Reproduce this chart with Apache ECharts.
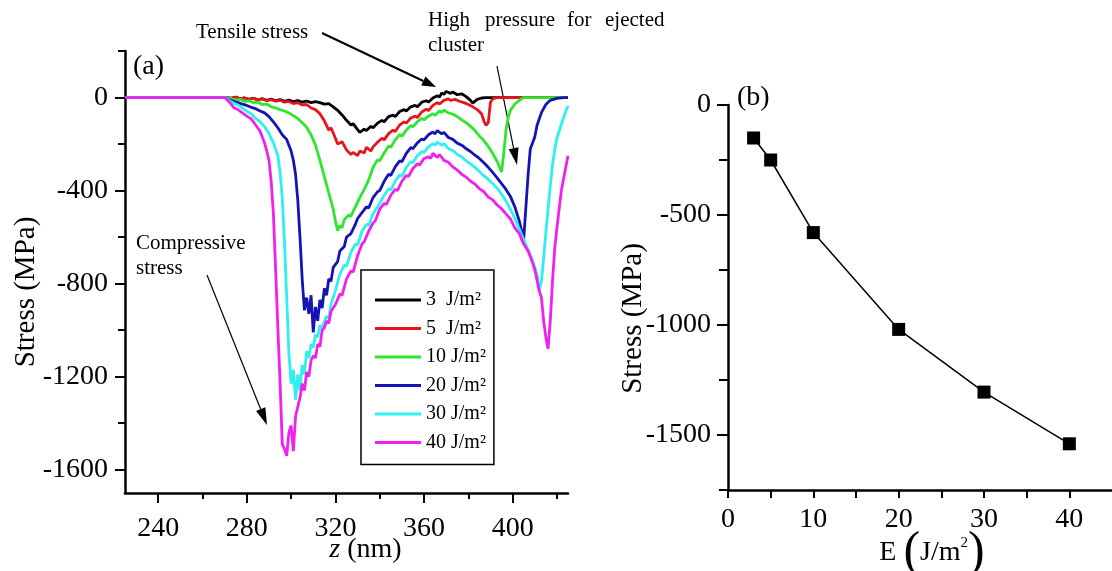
<!DOCTYPE html>
<html>
<head>
<meta charset="utf-8">
<script src="https://cdn.jsdelivr.net/npm/echarts@6/dist/echarts.min.js"></script>
<style>
  html, body { margin: 0; padding: 0; background: #fff; }
  #chart { width: 1112px; height: 571px; }
</style>
</head>
<body>
<div id="chart"></div>
<script>
const serif = "'Liberation Serif', 'Times New Roman', serif"

// (a) stress profiles along z, one [z, stress] list per fluence
const zTicks = [240, 280, 320, 360, 400]
const zMinor = [260, 300, 340, 380, 420]
const stressTicksA = [0, -400, -800, -1200, -1600]
const stressMinorA = [200, -200, -600, -1000, -1400]
const fluenceNames = ['3', '5', '10', '20', '30', '40']
const lineColors = ['#000000', '#e8141c', '#2ee62e', '#1414b4', '#2ef0f0', '#f020ee']

const curve3 = [[225,0],[271,0],[273,-4],[275,2],[277,-6],[279,-2],[281,-8],[283,-3],[285,-10],[287,-5],[289,-12],[291,-7],[293,-14],[295,-9],[297,-16],[299,-11],[301,-18],[303,-13],[305,-20],[307,-15],[309,-22],[311,-18],[313,-22],[315,-28],[317,-26],[319,-40],[321,-55],[323,-75],[325,-98],[327,-118],[328,-112],[330,-138],[331,-150],[333,-136],[334,-142],[336,-124],[337,-130],[339,-110],[341,-98],[342,-104],[344,-82],[346,-76],[347,-82],[349,-60],[351,-52],[352,-58],[354,-40],[356,-34],[357,-40],[359,-20],[361,-14],[362,-20],[364,-2],[366,8],[367,2],[368,20],[369,14],[370,26],[372,18],[373,24],[375,12],[377,16],[379,4],[381,-12],[382,-24],[384,-8],[386,-2],[388,0],[425,0]]
const curve5 = [[225,0],[271,0],[273,-3],[275,1],[277,-5],[279,-2],[281,-8],[283,-4],[285,-10],[287,-6],[289,-13],[291,-9],[293,-16],[295,-12],[297,-20],[299,-17],[301,-26],[303,-22],[305,-32],[307,-30],[309,-45],[311,-52],[313,-70],[315,-100],[317,-140],[318,-130],[320,-175],[321,-200],[323,-190],[325,-225],[327,-245],[328,-236],[330,-250],[331,-230],[333,-238],[334,-214],[336,-230],[337,-212],[339,-192],[341,-175],[342,-182],[344,-155],[346,-140],[347,-146],[349,-118],[351,-105],[352,-110],[354,-88],[356,-80],[357,-86],[359,-62],[361,-50],[362,-56],[364,-34],[366,-22],[367,-28],[369,-12],[371,-6],[372,-12],[374,-8],[376,-16],[378,-22],[380,-30],[382,-40],[384,-52],[386,-70],[387,-100],[388,-120],[389,-108],[390,-20],[391,-6],[393,0],[425,0]]
const curve10 = [[225,0],[271,0],[273,-6],[275,-10],[277,-8],[279,-16],[281,-14],[283,-22],[285,-20],[287,-30],[289,-28],[291,-40],[293,-44],[295,-52],[297,-58],[299,-66],[301,-78],[303,-90],[305,-108],[307,-128],[309,-160],[311,-205],[313,-270],[315,-340],[317,-410],[319,-480],[320,-530],[321,-572],[322,-550],[323,-560],[324,-525],[326,-505],[327,-510],[329,-470],[331,-430],[333,-395],[335,-355],[337,-300],[339,-268],[340,-272],[342,-238],[344,-208],[345,-214],[347,-182],[349,-160],[350,-166],[352,-140],[354,-120],[355,-126],[357,-104],[359,-90],[360,-96],[362,-80],[364,-70],[365,-76],[367,-58],[368,-64],[369,-54],[371,-66],[373,-72],[375,-82],[377,-96],[379,-108],[381,-124],[383,-142],[385,-165],[387,-185],[389,-210],[391,-240],[393,-275],[395,-320],[396,-240],[397,-140],[398,-85],[399,-55],[401,-28],[403,-12],[405,0],[425,0]]
const curve20 = [[225,0],[270,0],[272,-10],[274,-16],[276,-22],[278,-28],[280,-34],[282,-42],[284,-48],[286,-58],[288,-66],[290,-82],[292,-105],[294,-130],[296,-160],[298,-180],[300,-230],[301,-270],[302,-330],[303,-440],[304,-600],[305,-780],[306,-915],[307,-860],[308,-930],[309,-850],[310,-1010],[311,-900],[312,-960],[313,-870],[314,-905],[315,-820],[316,-850],[317,-780],[318,-790],[319,-730],[321,-705],[322,-660],[324,-640],[325,-600],[327,-585],[329,-545],[330,-520],[332,-495],[334,-470],[335,-475],[337,-430],[339,-405],[340,-400],[342,-360],[344,-330],[345,-335],[347,-298],[349,-272],[350,-276],[352,-240],[354,-215],[355,-220],[357,-195],[359,-178],[360,-182],[362,-160],[364,-148],[365,-156],[366,-142],[368,-156],[369,-150],[371,-172],[373,-180],[375,-196],[377,-205],[379,-220],[381,-232],[383,-248],[385,-262],[387,-280],[389,-300],[391,-322],[393,-345],[395,-370],[397,-395],[399,-425],[401,-470],[403,-530],[405,-610],[406,-470],[407,-330],[408,-220],[409,-195],[410,-170],[411,-120],[413,-65],[415,-30],[417,-12],[420,-4],[423,0],[425,0]]
const curve30 = [[225,0],[270,0],[272,-12],[274,-24],[276,-32],[278,-46],[280,-60],[282,-70],[284,-90],[286,-104],[288,-125],[290,-155],[292,-195],[294,-250],[295,-320],[296,-430],[297,-620],[298,-860],[299,-1100],[300,-1230],[301,-1170],[302,-1300],[303,-1190],[304,-1260],[305,-1150],[306,-1190],[307,-1090],[308,-1120],[309,-1060],[310,-1075],[311,-1020],[312,-1030],[313,-980],[314,-990],[316,-940],[317,-950],[318,-890],[320,-830],[322,-760],[324,-720],[325,-725],[327,-665],[329,-630],[330,-635],[332,-575],[334,-545],[335,-550],[337,-500],[339,-470],[340,-455],[342,-420],[344,-392],[345,-398],[347,-360],[349,-332],[350,-338],[352,-300],[354,-275],[355,-280],[357,-250],[359,-232],[360,-236],[362,-212],[364,-198],[365,-205],[366,-192],[368,-205],[369,-198],[371,-220],[373,-228],[375,-245],[377,-255],[379,-272],[381,-285],[383,-300],[385,-318],[387,-336],[389,-352],[391,-370],[393,-390],[395,-415],[397,-445],[399,-480],[401,-520],[403,-565],[405,-610],[407,-655],[409,-700],[411,-760],[412,-830],[413,-790],[414,-690],[415,-580],[416,-480],[417,-380],[418,-290],[419,-225],[420,-175],[422,-115],[424,-60],[425,-35]]
const curve40 = [[225,0],[270,0],[272,-18],[274,-42],[276,-52],[278,-66],[280,-80],[282,-92],[284,-118],[286,-145],[288,-195],[289,-230],[290,-270],[291,-360],[292,-500],[293,-740],[294,-990],[295,-1220],[296,-1490],[297,-1510],[298,-1540],[299,-1440],[300,-1410],[301,-1520],[302,-1370],[303,-1330],[304,-1290],[305,-1230],[306,-1260],[307,-1180],[308,-1200],[309,-1130],[310,-1110],[311,-1120],[312,-1060],[313,-1070],[314,-1000],[315,-990],[316,-960],[317,-970],[318,-920],[320,-890],[322,-845],[323,-850],[325,-780],[327,-745],[328,-750],[330,-680],[332,-630],[333,-620],[335,-575],[337,-540],[338,-530],[340,-480],[342,-455],[343,-460],[345,-420],[347,-395],[348,-400],[350,-360],[352,-335],[353,-340],[355,-305],[357,-285],[358,-290],[360,-262],[362,-255],[363,-262],[364,-240],[366,-258],[367,-245],[369,-270],[371,-278],[373,-298],[375,-312],[377,-330],[379,-342],[381,-360],[383,-372],[385,-392],[387,-405],[389,-428],[391,-440],[393,-462],[395,-478],[397,-500],[399,-522],[401,-560],[403,-585],[405,-630],[407,-660],[409,-710],[410,-740],[412,-830],[413,-860],[414,-960],[415,-1030],[416,-1080],[417,-960],[418,-790],[419,-650],[420,-560],[421,-480],[422,-400],[424,-300],[425,-250]]
const curves = [curve3, curve5, curve10, curve20, curve30, curve40]

// (b) peak compressive stress vs fluence
const fluence = [3, 5, 10, 20, 30, 40]
const peakStress = [-150, -250, -580, -1020, -1305, -1540]
const eTicks = [0, 10, 20, 30, 40]
const eMinor = [5, 15, 25, 35]
const stressTicksB = [0, -500, -1000, -1500]
const stressMinorB = [-250, -750, -1250, -1750]

const axisLineStyle = { color: '#000', width: 2.5 }
const labelStyle = { color: '#000', fontFamily: serif, fontSize: 28, formatter: v => String(v) }

function mainAxis(grid, pos, min, max, ticks, tickLen, margin) {
  return {
    gridIndex: grid,
    position: pos,
    type: 'value',
    min: min,
    max: max,
    nameMoveOverlap: false,
    axisLine: { show: true, onZero: false, lineStyle: axisLineStyle },
    axisTick: { show: true, customValues: ticks, length: tickLen, lineStyle: { color: '#000', width: 2 } },
    axisLabel: Object.assign({ customValues: ticks, margin: margin }, labelStyle),
    splitLine: { show: false }
  }
}
function minorAxis(grid, pos, min, max, ticks, tickLen) {
  return {
    gridIndex: grid,
    position: pos,
    type: 'value',
    min: min,
    max: max,
    axisLine: { show: false, onZero: false },
    axisTick: { show: true, customValues: ticks, length: tickLen, lineStyle: { color: '#000', width: 2 } },
    axisLabel: { show: false },
    splitLine: { show: false }
  }
}

function arrow(from, to, width, headLen, headW) {
  const dx = to[0] - from[0]
  const dy = to[1] - from[1]
  const d = Math.sqrt(dx * dx + dy * dy)
  const ux = dx / d
  const uy = dy / d
  const bx = to[0] - ux * headLen
  const by = to[1] - uy * headLen
  return [{
    type: 'line',
    shape: { x1: from[0], y1: from[1], x2: bx, y2: by },
    style: { stroke: '#000', lineWidth: width }
  }, {
    type: 'polygon',
    shape: { points: [to, [bx - uy * headW / 2, by + ux * headW / 2], [bx + uy * headW / 2, by - ux * headW / 2]] },
    style: { fill: '#000' }
  }]
}
function note(text, x, y, size) {
  return {
    type: 'text',
    left: x,
    top: y - size / 2,
    style: { text: text, fill: '#000', font: size + 'px ' + serif }
  }
}

const xA = mainAxis(0, 'bottom', 225, 425, zTicks, 10, 22)
xA.name = '{i|z} (nm)'
xA.nameLocation = 'middle'
xA.nameGap = 43
xA.nameTextStyle = {
  color: '#000', fontFamily: serif, fontSize: 28, padding: [0, 0, 0, 38],
  rich: { i: { fontStyle: 'italic', fontFamily: serif, fontSize: 28, color: '#000' } }
}
const yA = mainAxis(0, 'left', -1700, 200, stressTicksA, 10, 17)
yA.name = 'Stress (MPa)'
yA.nameLocation = 'middle'
yA.nameGap = 84
yA.nameRotate = 90
yA.nameTextStyle = { color: '#000', fontFamily: serif, fontSize: 29, padding: [0, 40, 0, 0] }

const xB = mainAxis(1, 'bottom', 0, 45, eTicks, 8, 16)
xB.name = '{t|E }{p|(}{t|J/m}{s|2}{p|)}'
xB.nameLocation = 'middle'
xB.nameGap = 38
xB.nameTextStyle = {
  color: '#000', fontFamily: serif, fontSize: 28, padding: [0, 0, 0, 24],
  rich: {
    t: { fontFamily: serif, fontSize: 28, color: '#000' },
    p: { fontFamily: serif, fontSize: 50, color: '#000' },
    s: { fontFamily: serif, fontSize: 15, color: '#000', verticalAlign: 'top', padding: [8, 0, 0, 0] }
  }
}
const yB = mainAxis(1, 'left', -1750, 0, stressTicksB, 11, 17)
yB.name = 'Stress (MPa)'
yB.nameLocation = 'middle'
yB.nameGap = 80
yB.nameRotate = 90
yB.nameTextStyle = { color: '#000', fontFamily: serif, fontSize: 29, padding: [0, 42, 0, 0] }

const xAm = minorAxis(0, 'bottom', 225, 425, zMinor, 6)
const yAm = minorAxis(0, 'left', -1700, 200, stressMinorA, 7)
const xBm = minorAxis(1, 'bottom', 0, 45, eMinor, 8)
const yBm = minorAxis(1, 'left', -1750, 0, stressMinorB, 9)

const series = curves.map((c, i) => ({
  name: fluenceNames[i],
  type: 'line',
  xAxisIndex: 0,
  yAxisIndex: 0,
  data: c,
  showSymbol: false,
  symbol: 'none',
  animation: false,
  lineStyle: { color: lineColors[i], width: 2.8 },
  itemStyle: { color: lineColors[i] }
}))
series.push({
  name: 'peak',
  type: 'line',
  xAxisIndex: 2,
  yAxisIndex: 2,
  data: fluence.map((e, i) => [e, peakStress[i]]),
  symbol: 'rect',
  symbolSize: 13,
  animation: false,
  lineStyle: { color: '#000', width: 1.5 },
  itemStyle: { color: '#000' }
})

let graphics = []
graphics = graphics.concat(arrow([322, 33], [436, 87], 2, 14, 10))
graphics = graphics.concat(arrow([497, 66], [517, 165], 1.2, 17, 10))
graphics = graphics.concat(arrow([207, 275], [267, 425], 1.2, 17, 10))
graphics.push(note('(a)', 133, 67, 28))
graphics.push(note('(b)', 737, 98, 28))
graphics.push(note('Tensile stress', 196, 32, 21))
graphics.push(note('High', 428, 20, 21))
graphics.push(note('pressure', 485, 20, 21))
graphics.push(note('for', 567, 20, 21))
graphics.push(note('ejected', 605, 20, 21))
graphics.push(note('cluster', 428, 45, 21))
graphics.push(note('Compressive', 136, 243, 21))
graphics.push(note('stress', 136, 268, 21))

const chart = echarts.init(document.getElementById('chart'))
chart.setOption({
  backgroundColor: '#fff',
  animation: false,
  grid: [
    { left: 125, top: 51, width: 443, height: 442, outerBoundsMode: 'none', containLabel: false },
    { left: 728, top: 105, width: 384, height: 385, outerBoundsMode: 'none', containLabel: false }
  ],
  xAxis: [xA, xAm, xB, xBm],
  yAxis: [yA, yAm, yB, yBm],
  legend: {
    data: fluenceNames,
    orient: 'vertical',
    left: 361,
    top: 270,
    padding: [20, 8, 12, 14],
    borderColor: '#000',
    borderWidth: 1.5,
    itemWidth: 46,
    itemHeight: 3,
    itemGap: 8.5,
    icon: 'rect',
    selectedMode: false,
    formatter: name => name + (name.length === 1 ? '  ' : ' ') + 'J/m²',
    textStyle: { color: '#000', fontFamily: serif, fontSize: 20 }
  },
  graphic: graphics,
  series: series
})
</script>
</body>
</html>
